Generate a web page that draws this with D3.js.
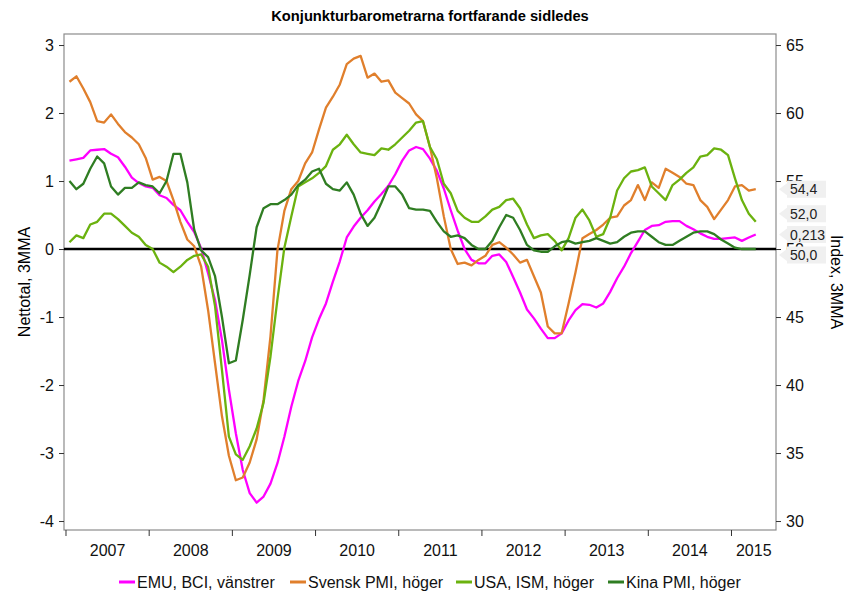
<!DOCTYPE html>
<html>
<head>
<meta charset="utf-8">
<script src="https://cdn.jsdelivr.net/npm/d3@7"></script>
<style>
  body { margin: 0; background: #fff; }
  svg text { font-family: "Liberation Sans", Arial, sans-serif; }
</style>
</head>
<body>
<div id="chart"></div>
<script>
// Monthly 3-month moving averages, Jan 2007 .. Apr 2015
const START_YEAR = 2007;
const yearLabels = ["2007", "2008", "2009", "2010", "2011", "2012", "2013", "2014", "2015"];
const leftTicks = [-4, -3, -2, -1, 0, 1, 2, 3];
const rightTicks = [30, 35, 40, 45, 50, 55, 60, 65];

// EMU BCI (left axis, nettotal)
const emu = [
  1.30, 1.32, 1.34, 1.45, 1.46, 1.47, 1.40, 1.35, 1.21, 1.05, 0.97, 0.92,
  0.90, 0.79, 0.75, 0.65, 0.57, 0.40, 0.25, 0.01, -0.36, -0.75, -1.34, -2.07,
  -2.71, -3.25, -3.59, -3.73, -3.64, -3.45, -3.15, -2.76, -2.32, -1.94, -1.65, -1.30,
  -1.03, -0.80, -0.48, -0.18, 0.17, 0.33, 0.46, 0.57, 0.70, 0.81, 0.93, 1.10,
  1.30, 1.45, 1.50, 1.47, 1.33, 1.15, 0.89, 0.57, 0.27, 0.00, -0.16, -0.21,
  -0.21, -0.10, -0.08, -0.19, -0.41, -0.64, -0.89, -1.02, -1.17, -1.31, -1.31, -1.24,
  -1.05, -0.90, -0.81, -0.82, -0.86, -0.80, -0.63, -0.43, -0.26, -0.06, 0.11, 0.28,
  0.34, 0.35, 0.40, 0.41, 0.41, 0.34, 0.29, 0.23, 0.18, 0.15, 0.15, 0.16,
  0.17, 0.12, 0.17, 0.213
];

// Svensk PMI (right axis, index)
const svenskPmi = [
  62.3, 62.7, 61.8, 60.8, 59.4, 59.3, 59.9, 59.2, 58.6, 58.2, 57.7, 56.7,
  55.1, 55.3, 55.0, 53.6, 52.0, 50.7, 50.2, 48.7, 45.5, 41.6, 37.7, 34.8,
  33.0, 33.2, 34.3, 36.0, 38.9, 43.6, 49.9, 52.8, 54.4, 55.0, 56.3, 57.1,
  58.8, 60.4, 61.2, 62.1, 63.6, 64.0, 64.2, 62.6, 62.9, 62.3, 62.4, 61.5,
  61.1, 60.7, 59.9, 59.4, 57.5, 55.2, 52.4, 50.0, 48.9, 49.0, 48.8, 49.2,
  49.5, 50.3, 50.5, 50.1, 49.6, 49.0, 49.2, 48.0, 46.8, 44.3, 43.8, 43.8,
  46.0, 48.3, 50.8, 51.1, 51.4, 51.8, 52.3, 52.4, 53.2, 53.6, 54.7, 53.6,
  54.9, 54.5, 55.9, 55.6, 55.3, 54.8, 54.7, 53.6, 53.1, 52.2, 52.9, 53.6,
  54.6, 54.7, 54.3, 54.4
];

// USA ISM (right axis, index)
const usaIsm = [
  50.5, 51.0, 50.8, 51.8, 52.0, 52.6, 52.6, 52.2, 51.7, 51.2, 50.9, 50.3,
  50.0, 49.0, 48.7, 48.3, 48.7, 49.2, 49.5, 49.6, 48.7, 45.8, 41.1, 36.2,
  34.9, 34.5, 35.5, 36.8, 38.7, 42.1, 46.3, 50.1, 52.4, 54.6, 54.9, 55.2,
  55.6, 56.1, 57.3, 57.7, 58.4, 57.7, 57.1, 57.0, 56.9, 57.4, 57.3, 57.7,
  58.2, 58.7, 59.3, 59.4, 57.5, 56.6, 54.8, 54.1, 52.8, 52.3, 52.0, 52.0,
  52.4, 52.9, 53.1, 53.6, 53.7, 53.0, 51.8, 50.8, 51.0, 51.1, 50.6, 49.9,
  50.8, 52.3, 52.9, 52.1, 50.9, 51.1, 52.3, 54.3, 55.2, 55.7, 55.8, 56.0,
  54.6, 54.1, 53.6, 54.7, 55.1, 55.6, 56.0, 56.8, 56.9, 57.4, 57.3, 56.9,
  55.2, 53.6, 52.6, 52.0
];

// Kina PMI (right axis, index)
const kinaPmi = [
  55.0, 54.4, 54.8, 55.9, 56.8, 56.3, 54.6, 54.0, 54.5, 54.5, 54.9, 54.7,
  54.6, 54.1, 55.0, 57.0, 57.0, 54.9, 51.4, 49.9, 49.4, 48.0, 45.0, 41.6,
  41.8, 44.8, 48.1, 51.6, 53.0, 53.3, 53.3, 53.6, 54.0, 54.7, 55.1, 55.7,
  55.9, 54.8, 54.4, 54.3, 54.9, 54.0, 52.6, 51.7, 52.3, 53.4, 54.6, 54.6,
  54.0, 53.0, 52.9, 52.9, 52.8, 52.0, 51.3, 50.9, 51.0, 50.8, 50.3, 50.0,
  50.0, 50.6, 51.6, 52.5, 52.3, 51.4, 50.3, 49.9, 49.8, 49.8, 50.2, 50.5,
  50.6, 50.4, 50.5, 50.6, 50.8, 50.6, 50.4, 50.5, 50.9, 51.2, 51.3, 51.3,
  50.9, 50.5, 50.3, 50.3, 50.6, 50.9, 51.2, 51.3, 51.3, 51.1, 50.7, 50.4,
  50.1, 50.0, 50.0, 50.0
];

const series = [
  { name: "EMU, BCI, vänstrer", values: emu, axis: "left", color: "#ff00ff", fmt: ".3f" },
  { name: "Svensk PMI, höger", values: svenskPmi, axis: "right", color: "#e07f2c", fmt: ".1f" },
  { name: "USA, ISM, höger", values: usaIsm, axis: "right", color: "#6bb20f", fmt: ".1f" },
  { name: "Kina PMI, höger", values: kinaPmi, axis: "right", color: "#2f7d22", fmt: ".1f" }
];

const width = 860;
const height = 593;
const plot = { left: 64, right: 776, top: 34, bottom: 530 };

const svg = d3.select("#chart").append("svg")
  .attr("width", width)
  .attr("height", height);

// x: fractional years, each month is plotted in the middle of its slot
const x = d3.scaleLinear()
  .domain([2006.976, 2015.535])
  .range([plot.left, plot.right]);

const yL = d3.scaleLinear()
  .domain([-4.132, 3.162])
  .range([plot.bottom, plot.top]);

// right axis = 50 + 5 * left axis
const yR = d3.scaleLinear()
  .domain([50 + 5 * -4.132, 50 + 5 * 3.162])
  .range([plot.bottom, plot.top]);

const monthX = i => x(START_YEAR + (i + 0.5) / 12);

// title
svg.append("text")
  .attr("x", 430)
  .attr("y", 21)
  .attr("text-anchor", "middle")
  .style("font-size", "14.7px")
  .style("font-weight", "bold")
  .text("Konjunkturbarometrarna fortfarande sidledes");

// frame
svg.append("rect")
  .attr("x", plot.left)
  .attr("y", plot.top)
  .attr("width", plot.right - plot.left)
  .attr("height", plot.bottom - plot.top)
  .attr("fill", "none")
  .attr("stroke", "#8c8c8c")
  .attr("stroke-width", 1.2);

// left axis
const gl = svg.append("g")
  .attr("transform", `translate(${plot.left},0)`)
  .call(d3.axisLeft(yL).tickValues(leftTicks).tickFormat(d => String(d)).tickSize(5).tickPadding(5));
gl.select(".domain").remove();

// right axis
const gr = svg.append("g")
  .attr("transform", `translate(${plot.right},0)`)
  .call(d3.axisRight(yR).tickValues(rightTicks).tickFormat(d => String(d)).tickSize(5).tickPadding(5));
gr.select(".domain").remove();

[gl, gr].forEach(g => {
  g.selectAll("text").style("font-size", "16px").attr("fill", "#111");
  g.selectAll("line").attr("stroke", "#333");
});

// x axis: year boundaries as ticks, labels centred in each year
const years = yearLabels.map(Number);
const gx = svg.append("g");
gx.selectAll("line.tick")
  .data(years)
  .join("line")
  .attr("class", "tick")
  .attr("x1", d => x(d)).attr("x2", d => x(d))
  .attr("y1", plot.bottom).attr("y2", plot.bottom + 6)
  .attr("stroke", "#333");
gx.selectAll("text")
  .data(yearLabels)
  .join("text")
  .attr("x", (d, i) => {
    const end = Math.min(years[i] + 1, x.domain()[1]);
    return (x(years[i]) + x(end)) / 2;
  })
  .attr("y", 556)
  .attr("text-anchor", "middle")
  .style("font-size", "16px")
  .attr("fill", "#111")
  .text(d => d);

// axis titles
svg.append("text")
  .attr("transform", `translate(30,${(plot.top + plot.bottom) / 2}) rotate(-90)`)
  .attr("text-anchor", "middle")
  .style("font-size", "16px")
  .text("Nettotal, 3MMA");

svg.append("text")
  .attr("transform", `translate(831,${(plot.top + plot.bottom) / 2}) rotate(90)`)
  .attr("text-anchor", "middle")
  .style("font-size", "16px")
  .text("Index, 3MMA");

// zero line
svg.append("line")
  .attr("x1", plot.left).attr("x2", plot.right)
  .attr("y1", yL(0)).attr("y2", yL(0))
  .attr("stroke", "#000")
  .attr("stroke-width", 2.4);

// series lines
series.forEach(s => {
  const y = s.axis === "left" ? yL : yR;
  const line = d3.line()
    .x((d, i) => monthX(i))
    .y(d => y(d));
  svg.append("path")
    .datum(s.values)
    .attr("fill", "none")
    .attr("stroke", s.color)
    .attr("stroke-width", 2.3)
    .attr("stroke-linejoin", "round")
    .attr("d", line);
});

// end-value labels, nudged apart like in the original
const endOrder = [1, 2, 0, 3];
const nudge = [0, -8, 0, 6];
endOrder.forEach((si, k) => {
  const s = series[si];
  const y = (s.axis === "left" ? yL : yR)(s.values[s.values.length - 1]);
  const cy = y + nudge[k];
  const label = d3.format(s.fmt)(s.values[s.values.length - 1]).replace(".", ",");
  const g = svg.append("g").attr("transform", `translate(0,${cy})`);
  g.append("path")
    .attr("d", "M779,0 L787,-6 L787,-8.5 L826,-8.5 L826,8.5 L787,8.5 L787,6 Z")
    .attr("fill", "#f0f0f0");
  g.append("text")
    .attr("x", 790)
    .attr("y", 5)
    .style("font-size", "14px")
    .attr("fill", "#222")
    .text(label);
});

// legend
const legendX = [119, 290, 456, 608];
const legend = svg.append("g").attr("transform", "translate(0,582)");
series.forEach((s, i) => {
  legend.append("line")
    .attr("x1", legendX[i]).attr("x2", legendX[i] + 16)
    .attr("y1", 0).attr("y2", 0)
    .attr("stroke", s.color)
    .attr("stroke-width", 3);
  legend.append("text")
    .attr("x", legendX[i] + 18)
    .attr("y", 6)
    .style("font-size", "16px")
    .attr("fill", "#111")
    .text(s.name);
});
</script>
</body>
</html>
